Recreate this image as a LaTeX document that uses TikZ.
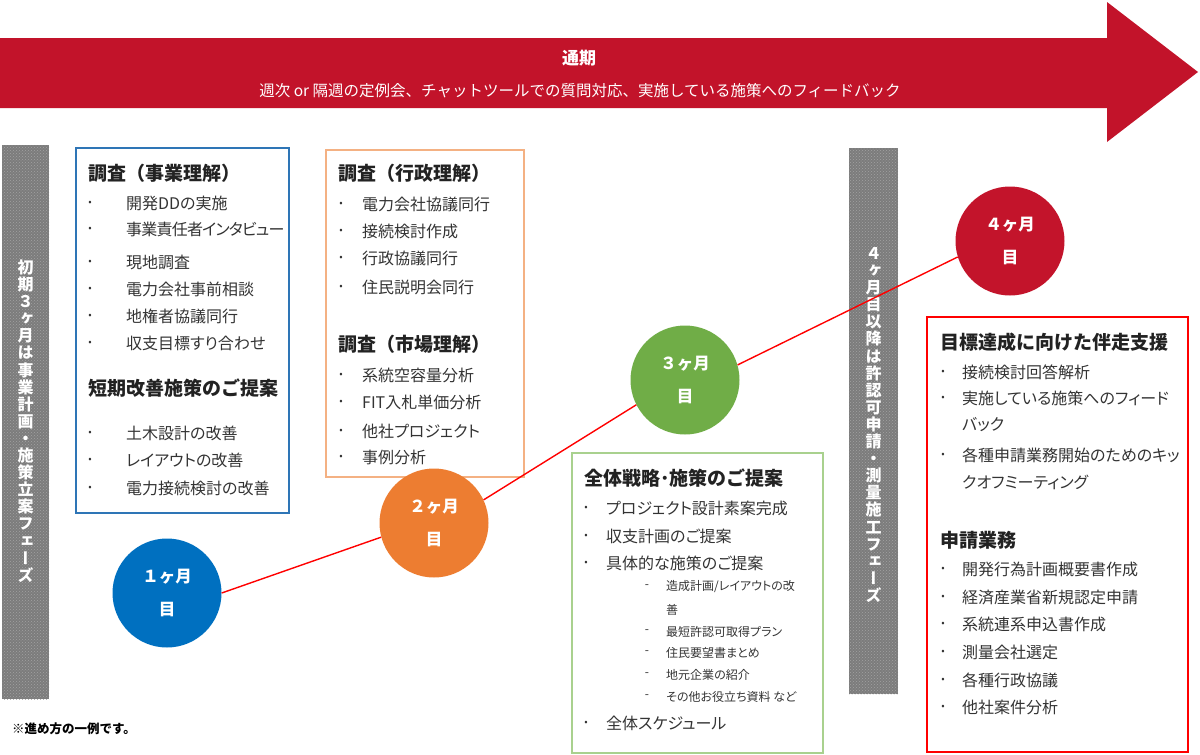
\documentclass[tikz,border=0pt]{standalone}
\usepackage{fontspec}
\usetikzlibrary{patterns}
\setmainfont{Noto Sans CJK JP}
\newfontfamily\pf{Noto Sans CJK JP}[RawFeature=+palt]
\newfontfamily\vf{Noto Sans CJK JP}[RawFeature=+vert]
\definecolor{arrowred}{HTML}{C2132A}
\definecolor{mblue}{HTML}{0070C0}
\definecolor{morange}{HTML}{ED7D31}
\definecolor{mgreen}{HTML}{70AD47}
\definecolor{mred}{HTML}{C3142B}
\definecolor{bblue}{HTML}{2E75B6}
\definecolor{borange}{HTML}{F4B183}
\definecolor{bgreen}{HTML}{A9D18E}
\definecolor{bred}{HTML}{FF0000}
\definecolor{barg}{HTML}{7C7C7C}
\definecolor{bardot}{HTML}{A2A2A2}
\definecolor{ttlc}{HTML}{222222}
\definecolor{bodyc}{HTML}{333333}
\tikzset{
  ttl/.style={anchor=west, inner sep=0pt, text=ttlc, font=\bfseries\fontsize{19}{22}\selectfont},
  itm/.style={anchor=west, inner sep=0pt, text=bodyc, font=\pf\fontsize{16}{19}\selectfont},
  sitm/.style={anchor=west, inner sep=0pt, text=bodyc, font=\pf\fontsize{12}{14}\selectfont},
  bul/.style={inner sep=0pt, text=bodyc, font=\fontsize{10}{10}\selectfont},
  dsh/.style={inner sep=0pt, text=bodyc, font=\fontsize{12}{14}\selectfont},
  frame/.style={line width=1.5pt},
  phasebar/.style={fill=barg, postaction={pattern=crosshatch dots, pattern color=bardot}},
  vtxt/.style={text=white, align=center, inner sep=0pt, font=\vf\bfseries\fontsize{16}{17.1}\selectfont},
  month/.style={circle, minimum size=109pt, inner sep=0pt, text=white, align=center, font=\bfseries\fontsize{16.5}{33}\selectfont},
  link/.style={draw=red, line width=1.4pt},
}
\begin{document}
\begin{tikzpicture}[x=1pt,y=-1pt]
\useasboundingbox (0,0) rectangle (1200,755);
% top arrow
\fill[arrowred] (0,38) -- (1107,38) -- (1107,2) -- (1198,72) -- (1107,142) -- (1107,108) -- (0,108) -- cycle;
\node[inner sep=0pt, text=white, font=\bfseries\fontsize{17}{20}\selectfont] (tsu) at (579,58) {通期};
\node[inner sep=0pt, text=white, font=\fontsize{15.5}{18}\selectfont] (tsu2) at (580,91) {週次 or 隔週の定例会、チャットツールでの質問対応、実施している施策へのフィードバック};
% gray bars
\fill[phasebar] (2,145) rectangle (49,699);
\fill[phasebar] (849,148) rectangle (898,694);
\node[vtxt] (vl) at (25.5,421) {初\\期\\３\\ヶ\\月\\は\\事\\業\\計\\画\\・\\施\\策\\立\\案\\フ\\ェ\\ー\\ズ};
\node[vtxt] (vr) at (873.5,425) {４\\ヶ\\月\\目\\以\\降\\は\\許\\認\\可\\申\\請\\・\\測\\量\\施\\工\\フ\\ェ\\ー\\ズ};
% boxes
\draw[frame, draw=bblue] (76,148) rectangle (289,513);
\draw[frame, draw=borange] (326,150) rectangle (524,477);
\draw[frame, draw=bgreen] (572,453) rectangle (823,753);
\draw[frame, draw=bred] (927,317) rectangle (1188,752);
% blue box
\node[ttl] (bt1) at (88,173) {調査（事業理解）};
\foreach \y/\t [count=\i] in {203/開発DDの実施, 229/{\addfontfeature{LetterSpace=-5}事業責任者インタビュー}, 262/現地調査, 289/電力会社事前相談, 316/地権者協議同行, 343/収支目標すり合わせ}{
  \node[bul] (bb\i) at (90,\y) {•};
  \node[itm] (bi\i) at (126,\y) {\t};
}
\node[ttl] (bt2) at (88,388) {短期改善施策のご提案};
\foreach \y/\t [count=\i] in {433/土木設計の改善, 460/レイアウトの改善, 488/電力接続検討の改善}{
  \node[bul] (bbb\i) at (90,\y) {•};
  \node[itm] (bii\i) at (126,\y) {\t};
}
% orange box
\node[ttl] (ot1) at (338,173) {調査（行政理解）};
\foreach \y/\t [count=\i] in {204/電力会社協議同行, 231/接続検討作成, 258/行政協議同行, 287/住民説明会同行}{
  \node[bul] (ob\i) at (341,\y) {•};
  \node[itm] (oi\i) at (362,\y) {\t};
}
\node[ttl] (ot2) at (338,344) {調査（市場理解）};
\foreach \y/\t [count=\i] in {375/系統空容量分析, 402/FIT入札単価分析, 431/他社プロジェクト, 457/事例分析}{
  \node[bul] (obb\i) at (341,\y) {•};
  \node[itm] (oii\i) at (362,\y) {\t};
}
% green box
\node[ttl] (gt1) at (584,478) {全体戦略･施策のご提案};
\foreach \y/\t [count=\i] in {508/プロジェクト設計素案完成, 536/収支計画のご提案, 563/具体的な施策のご提案, 723/全体スケジュール}{
  \node[bul] (gb\i) at (586,\y) {•};
  \node[itm] (gi\i) at (606,\y) {\t};
}
\foreach \y/\t [count=\i] in {587/{造成計画/レイアウトの改}, 632/最短許認可取得プラン, 653/住民要望書まとめ, 675/地元企業の紹介, 697/{その他お役立ち資料 など}}{
  \node[dsh] (gd\i) at (647,\y) {-};
  \node[sitm] (gs\i) at (666,\y) {\t};
}
\node[sitm] (gs6) at (666,610) {善};
% red box
\node[ttl] (rt1) at (940,342) {目標達成に向けた伴走支援};
\foreach \y/\t [count=\i] in {372/接続検討回答解析, 398/実施している施策へのフィード, 455/各種申請業務開始のためのキッ}{
  \node[bul] (rb\i) at (943,\y) {•};
  \node[itm] (ri\i) at (962,\y) {\t};
}
\node[itm] (rc1) at (962,425) {バック};
\node[itm] (rc2) at (962,482) {クオフミーティング};
\node[ttl] (rt2) at (940,540) {申請業務};
\foreach \y/\t [count=\i] in {569/開発行為計画概要書作成, 597/経済産業省新規認定申請, 624/系統連系申込書作成, 652/測量会社選定, 680/各種行政協議, 707/他社案件分析}{
  \node[bul] (rbb\i) at (943,\y) {•};
  \node[itm] (rii\i) at (962,\y) {\t};
}
% footnote
\node[anchor=west, inner sep=0pt, text=black, font=\bfseries\fontsize{12.5}{14}\selectfont] (note) at (12,729) {※進め方の一例です。};
% month circles
\node[month, fill=mblue] (m1) at (167,593) {１ヶ月\\目};
\node[month, fill=morange] (m2) at (434,523) {２ヶ月\\目};
\node[month, fill=mgreen] (m3) at (685,380) {３ヶ月\\目};
\node[month, fill=mred] (m4) at (1010,241) {４ヶ月\\目};
\draw[link] (m1.east) -- (m2.195);
\draw[link] (m2.25) -- (m3.207);
\draw[link] (m3.16) -- (m4.197);
\end{tikzpicture}
\end{document}
